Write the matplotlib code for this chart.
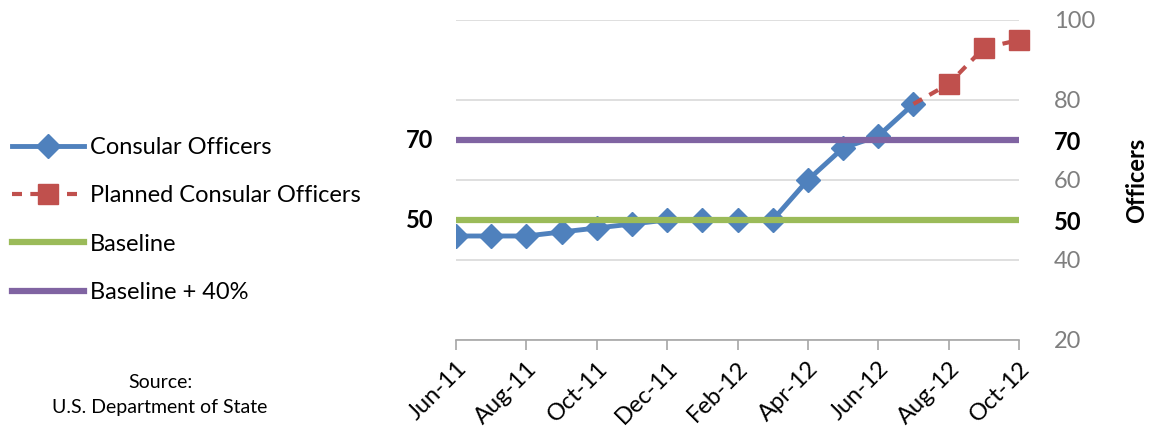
import numpy as np
import matplotlib.pyplot as plt
import matplotlib.transforms as mtransforms

plt.rcParams['font.family'] = ['Lato', 'DejaVu Sans']

months = ["Jun-11", "Jul-11", "Aug-11", "Sep-11", "Oct-11", "Nov-11", "Dec-11",
          "Jan-12", "Feb-12", "Mar-12", "Apr-12", "May-12", "Jun-12", "Jul-12",
          "Aug-12", "Sep-12", "Oct-12"]
consular = [46, 46, 46, 47, 48, 49, 50, 50, 50, 50, 60, 68, 71, 79]
planned_months = ["Jul-12", "Aug-12", "Sep-12", "Oct-12"]
planned = [79, 84, 93, 95]
baseline = 50
baseline_40 = 70

x = np.arange(len(months))
x_cons = x[:len(consular)]
x_plan = np.array([months.index(m) for m in planned_months])

blue = "#4F81BD"
red = "#C0504D"
green = "#9BBB59"
purple = "#8064A2"
grey = "#7F7F7F"

fig = plt.figure(figsize=(11.59, 4.28), dpi=100)
ax = fig.add_axes([456 / 1159, 1 - 340 / 428, (1019 - 456) / 1159, 320 / 428])

l1, = ax.plot(x_cons, consular, color=blue, lw=3.5, marker="D", ms=12,
              label="Consular Officers", zorder=3)
# first planned point is the last actual one, drawn without a square
l2, = ax.plot(x_plan, planned, color=red, lw=3, ls=(0, (2.4, 2)), marker="s",
              ms=14, markevery=slice(1, None),
              label="Planned Consular Officers", zorder=3, clip_on=False)
l3, = ax.plot(x, [baseline] * len(x), color=green, lw=4.5,
              label="Baseline", zorder=4)
l4, = ax.plot(x, [baseline_40] * len(x), color=purple, lw=4.5,
              label="Baseline + 40%", zorder=4)

ax.set_xlim(0, len(months) - 1)
ax.set_ylim(20, 100)

# y axis on the right
ax.yaxis.tick_right()
ax.set_yticks([20, 40, 60, 80, 100])
ax.set_yticks([50, 70], minor=True)
ax.set_yticklabels(["20", "40", "60", "80", "100"], minor=False)
ax.set_yticklabels(["50", "70"], minor=True, fontweight="bold")
ax.tick_params(axis="y", which="major", length=0, pad=25, labelsize=17,
               labelcolor=grey)
ax.tick_params(axis="y", which="minor", length=0, pad=25, labelsize=17,
               labelcolor="black")
ax.grid(axis="y", which="major", color="#D9D9D9", lw=1.2)
ax.set_axisbelow(True)

ax.set_xticks(x[::2])
ax.set_xticklabels(months[::2], rotation=45, ha="right", va="top",
                   rotation_mode="anchor")
ax.tick_params(axis="x", length=7, width=1.2, color="#A6A6A6", labelsize=17,
               pad=6)

for s in ["top", "left", "right"]:
    ax.spines[s].set_visible(False)
ax.spines["bottom"].set_color("#A6A6A6")
ax.spines["bottom"].set_linewidth(1.2)

# bold labels on the left side
trans = mtransforms.blended_transform_factory(ax.transAxes, ax.transData)
for v in [baseline_40, baseline]:
    ax.text(-0.04, v, str(v), transform=trans, ha="right", va="center",
            fontsize=17, fontweight="bold")

fig.text(1137 / 1159, 1 - 180 / 428, "Officers", rotation=90, ha="center",
         va="center", fontsize=17, fontweight="bold")

fig.legend(handles=[l1, l2, l3, l4], loc="center left",
           bbox_to_anchor=(0.0, 1 - 220 / 428), frameon=False, fontsize=17,
           handlelength=3.05, handletextpad=0.25, labelspacing=1.16,
           borderaxespad=0.1)

fig.text(160 / 1159, 1 - 382 / 428, "Source:", ha="center", va="center",
         fontsize=14)
fig.text(160 / 1159, 1 - 408 / 428, "U.S. Department of State", ha="center",
         va="center", fontsize=14)

fig.savefig("out.png", dpi=100)
